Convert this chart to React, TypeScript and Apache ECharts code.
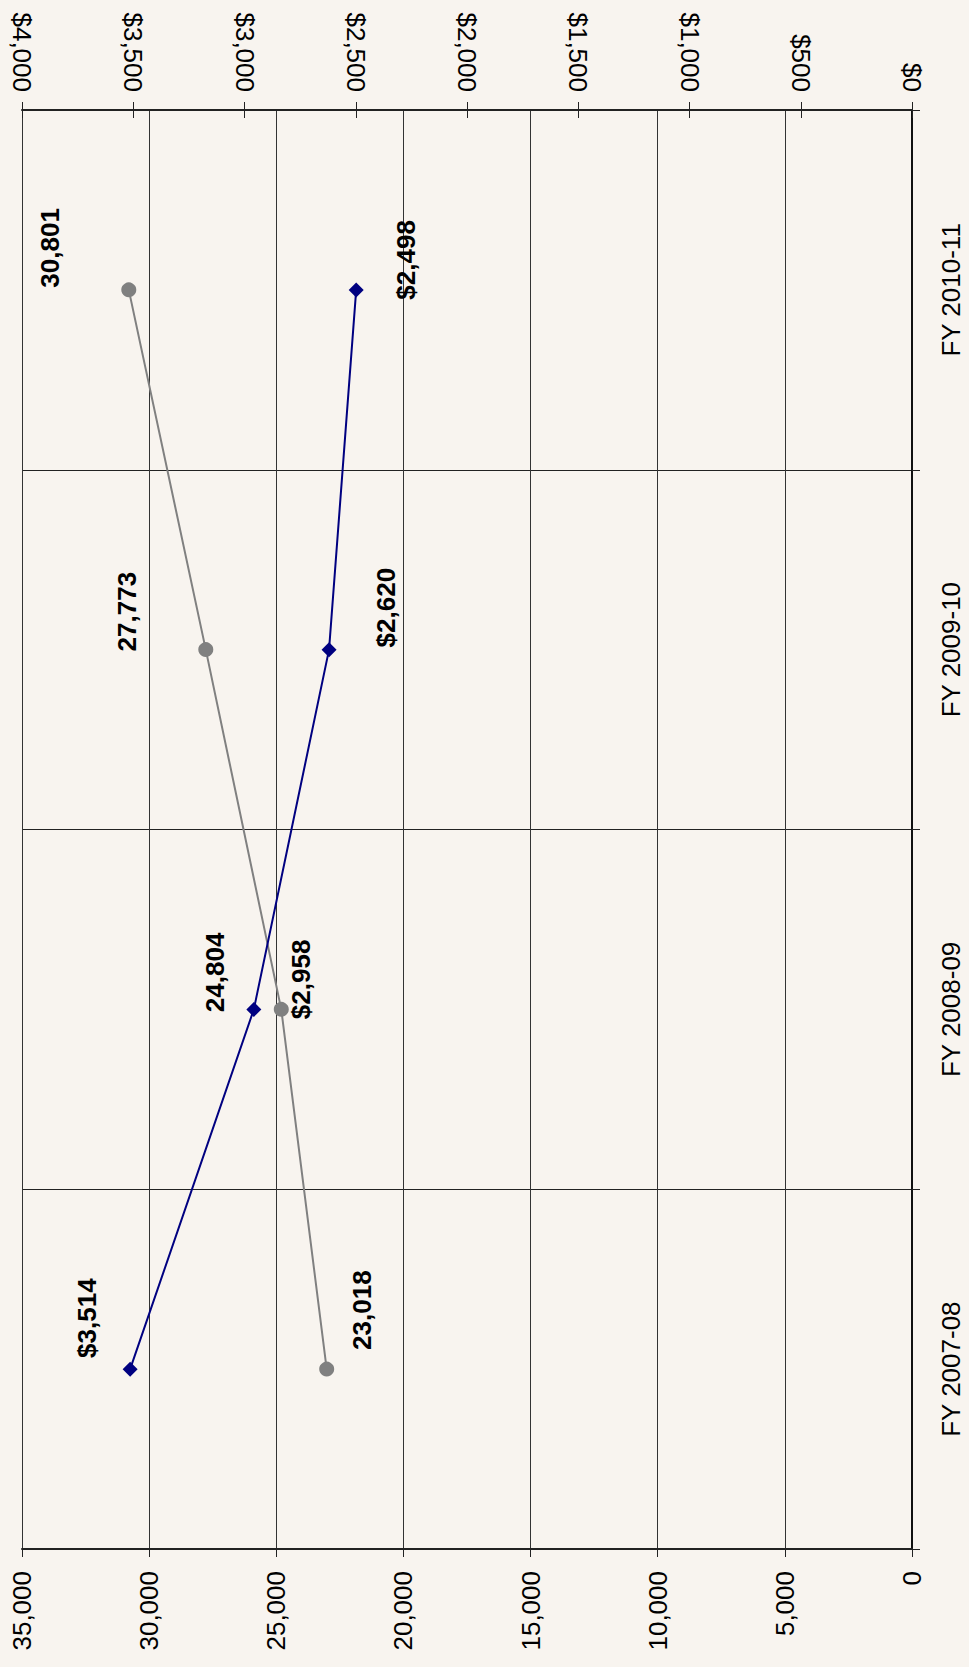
import React, { useEffect, useRef } from "react";
import * as echarts from "echarts";

// Fiscal years, shown bottom-to-top along the right-hand category axis
const categories = ["FY 2007-08", "FY 2008-09", "FY 2009-10", "FY 2010-11"];

// Count series (bottom axis, grey circles)
const countValues = [23018, 24804, 27773, 30801];

// Dollar series (top axis, navy diamonds)
const dollarValues = [3514, 2958, 2620, 2498];

// Axis ranges
const countMax = 35000;
const countStep = 5000;
const dollarMax = 4000;
const dollarStep = 500;

// Label placement per point: screen offset [right, down] from the marker
const countLabelShift: [number, number][] = [
  [35, -59],
  [-66, -37],
  [-79, -38],
  [-79, -42],
];
const dollarLabelShift: [number, number][] = [
  [-43, -51],
  [47, -30],
  [57, -42],
  [50, -30],
];

const FONT = "'Liberation Sans', Arial, Helvetica, sans-serif";
const BG = "#f8f4ef";

const fmtNum = (v: number) => Math.round(v).toLocaleString("en-US");

// Labels are rotated 90deg, so their offset is given in the text's own frame
const rotatedOffset = (s: [number, number]) => [-s[1], s[0]];

export default function App() {
  const ref = useRef<HTMLDivElement>(null);

  useEffect(() => {
    if (!ref.current) return;
    const chart = echarts.init(ref.current, undefined, { renderer: "svg" });

    const labelBase = {
      show: true,
      position: "inside" as const,
      rotate: 90,
      align: "center" as const,
      verticalAlign: "middle" as const,
      fontFamily: FONT,
      fontSize: 26,
      fontWeight: "bold" as const,
      color: "#000",
    };

    chart.setOption({
      animation: false,
      backgroundColor: BG,
      textStyle: { fontFamily: FONT },
      grid: { left: 22, right: 57, top: 110, bottom: 118, containLabel: false },
      xAxis: [
        {
          type: "value",
          position: "bottom",
          inverse: true,
          min: 0,
          max: countMax,
          interval: countStep,
          axisLine: { show: true, lineStyle: { color: "#222", width: 2 } },
          axisTick: { show: true, inside: false, length: 8, lineStyle: { color: "#222", width: 1 } },
          axisLabel: {
            rotate: 90,
            margin: 22,
            fontSize: 26,
            fontFamily: FONT,
            color: "#000",
            formatter: (v: number) => fmtNum(v),
          },
          splitLine: { show: true, lineStyle: { color: "#333", width: 1 } },
        },
        {
          type: "value",
          position: "top",
          inverse: true,
          min: 0,
          max: dollarMax,
          interval: dollarStep,
          axisLine: { show: true, lineStyle: { color: "#222", width: 2 } },
          axisTick: { show: true, inside: false, length: 8, lineStyle: { color: "#222", width: 1 } },
          axisLabel: {
            rotate: 90,
            margin: 18,
            fontSize: 26,
            fontFamily: FONT,
            color: "#000",
            formatter: (v: number) => "$" + fmtNum(v),
          },
          splitLine: { show: false },
        },
        {
          // inner half of the crossing ticks on the dollar axis
          type: "value",
          position: "top",
          inverse: true,
          min: 0,
          max: dollarMax,
          interval: dollarStep,
          axisLine: { show: false },
          axisTick: { show: true, inside: true, length: 8, lineStyle: { color: "#222", width: 1 } },
          axisLabel: { show: false },
          splitLine: { show: false },
        },
      ],
      yAxis: {
        type: "category",
        position: "right",
        data: categories,
        boundaryGap: true,
        axisLine: { show: true, lineStyle: { color: "#111", width: 2 } },
        axisTick: { show: true, inside: false, length: 8, lineStyle: { color: "#222", width: 1 } },
        axisLabel: {
          rotate: 90,
          margin: 26,
          fontSize: 26,
          fontFamily: FONT,
          color: "#000",
        },
        splitLine: { show: true, lineStyle: { color: "#222", width: 1 } },
      },
      series: [
        {
          name: "Count",
          type: "line",
          xAxisIndex: 0,
          data: countValues.map((v, i) => ({
            value: v,
            label: { offset: rotatedOffset(countLabelShift[i]) },
          })),
          symbol: "circle",
          symbolSize: 15,
          lineStyle: { color: "#808080", width: 2 },
          itemStyle: { color: "#808080" },
          label: { ...labelBase, formatter: (p: any) => fmtNum(p.value) },
          z: 3,
        },
        {
          name: "Dollars",
          type: "line",
          xAxisIndex: 1,
          data: dollarValues.map((v, i) => ({
            value: v,
            label: { offset: rotatedOffset(dollarLabelShift[i]) },
          })),
          symbol: "diamond",
          symbolSize: 15,
          lineStyle: { color: "#000080", width: 2 },
          itemStyle: { color: "#000080" },
          label: { ...labelBase, formatter: (p: any) => "$" + fmtNum(p.value) },
          z: 4,
        },
      ],
    });

    return () => chart.dispose();
  }, []);

  return (
    <div
      ref={ref}
      style={{ position: "absolute", left: 0, top: 0, width: 969, height: 1667, background: BG }}
    />
  );
}
